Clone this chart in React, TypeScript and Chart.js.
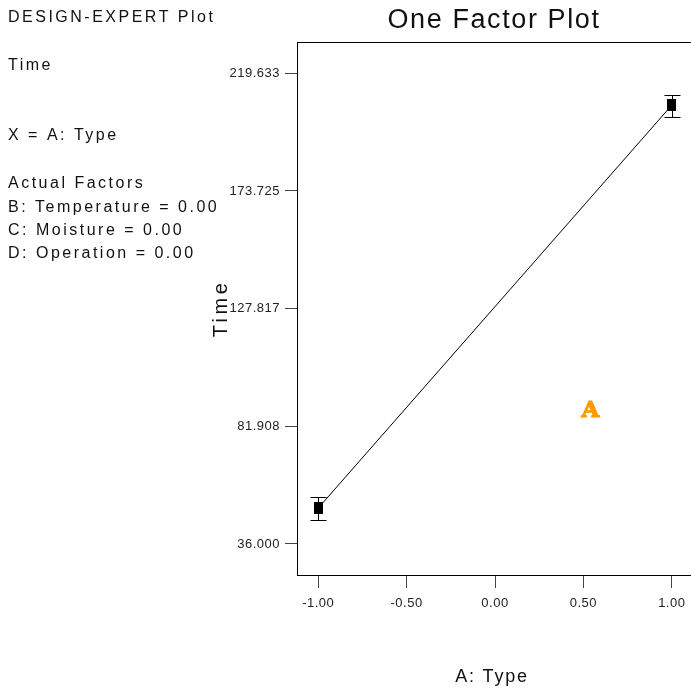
import React, { useEffect, useRef } from 'react';
import { Chart, registerables } from 'chart.js';

Chart.register(...registerables);

// ---- data ----
const typeLevels = [-1, 1];
const timeMeans = [50.0, 207.2];
const timeLow = [45.4, 202.7];
const timeHigh = [54.5, 211.2];
const xTickValues = [-1, -0.5, 0, 0.5, 1];
const xTickLabels = ['-1.00', '-0.50', '0.00', '0.50', '1.00'];
const yTickLabels = ['36.000', '81.908', '127.817', '173.725', '219.633'];
const infoLines = [
  'DESIGN-EXPERT Plot',
  'Time',
  'X = A: Type',
  'Actual Factors',
  'B: Temperature = 0.00',
  'C: Moisture = 0.00',
  'D: Operation = 0.00',
];
const chartTitle = 'One Factor Plot';
const xTitle = 'A: Type';
const yTitle = 'Time';
const factorTag = 'A';

const FONT = '"Liberation Sans", Arial, sans-serif';
const infoBaselines = [21.7, 70, 140, 188.3, 211.7, 235, 258.3];

export default function App() {
  const ref = useRef<HTMLCanvasElement | null>(null);

  useEffect(() => {
    const canvas = ref.current;
    if (!canvas) return;

    const marker = document.createElement('canvas');
    marker.width = 9;
    marker.height = 12;
    const mctx = marker.getContext('2d')!;
    mctx.fillStyle = '#000';
    mctx.fillRect(0, 0, 9, 12);

    const pts = typeLevels.map((x, i) => ({ x, y: timeMeans[i] }));

    const decor = {
      id: 'decor',
      beforeDraw(chart: any) {
        chart.ctx.letterSpacing = '0.5px';
      },
      beforeDatasetsDraw(chart: any) {
        const ctx = chart.ctx;
        const xs = chart.scales.x;
        const ys = chart.scales.y;
        ctx.save();
        ctx.letterSpacing = '0px';
        ctx.strokeStyle = '#000';
        ctx.lineWidth = 1;
        typeLevels.forEach((v, i) => {
          const px = Math.round(xs.getPixelForValue(v)) + 0.5;
          const pLow = Math.round(ys.getPixelForValue(timeLow[i])) + 0.5;
          const pHigh = Math.round(ys.getPixelForValue(timeHigh[i])) + 0.5;
          ctx.beginPath();
          ctx.moveTo(px, pLow);
          ctx.lineTo(px, pHigh);
          ctx.moveTo(px - 8, pLow);
          ctx.lineTo(px + 8, pLow);
          ctx.moveTo(px - 8, pHigh);
          ctx.lineTo(px + 8, pHigh);
          ctx.stroke();
        });
        ctx.restore();
      },
      afterDraw(chart: any) {
        const ctx = chart.ctx;
        const area = chart.chartArea;
        const xs = chart.scales.x;
        const ys = chart.scales.y;
        ctx.save();
        // top frame line
        ctx.strokeStyle = '#000';
        ctx.lineWidth = 1;
        ctx.beginPath();
        ctx.moveTo(area.left, Math.round(area.top) + 0.5);
        ctx.lineTo(area.right, Math.round(area.top) + 0.5);
        ctx.stroke();

        ctx.fillStyle = '#111';
        ctx.textBaseline = 'alphabetic';

        // info block
        ctx.textAlign = 'left';
        ctx.font = `16px ${FONT}`;
        ctx.letterSpacing = '2.5px';
        infoLines.forEach((t, i) => ctx.fillText(t, 8, infoBaselines[i]));

        // title
        ctx.textAlign = 'center';
        ctx.font = `27px ${FONT}`;
        ctx.letterSpacing = '1.6px';
        ctx.fillText(chartTitle, 494, 28.3);

        // x title
        ctx.font = `18px ${FONT}`;
        ctx.letterSpacing = '1.8px';
        ctx.fillText(xTitle, 492, 681.7);

        // y title
        ctx.save();
        ctx.translate(227, (area.top + area.bottom) / 2);
        ctx.rotate(-Math.PI / 2);
        ctx.font = `20px ${FONT}`;
        ctx.letterSpacing = '3.5px';
        ctx.fillText(yTitle, 0, 0);
        ctx.restore();

        // factor tag
        ctx.fillStyle = '#FF9900';
        ctx.strokeStyle = '#FF9900';
        ctx.lineWidth = 1.2;
        ctx.lineJoin = 'round';
        ctx.font = `bold 23px "DejaVu Serif", "Liberation Serif", serif`;
        ctx.letterSpacing = '0px';
        const tx = xs.getPixelForValue(0.54);
        const ty = ys.getPixelForValue(85.4);
        ctx.fillText(factorTag, tx, ty);
        ctx.strokeText(factorTag, tx, ty);
        ctx.restore();
      },
    };

    const chart = new Chart(canvas, {
      type: 'scatter',
      data: {
        datasets: [
          {
            type: 'line',
            data: pts,
            borderColor: '#000',
            borderWidth: 1,
            pointRadius: 0,
            fill: false,
            tension: 0,
          } as any,
          {
            type: 'scatter',
            data: pts,
            pointStyle: marker as any,
            pointRadius: 6,
            backgroundColor: '#000',
            borderColor: '#000',
          },
        ],
      },
      options: {
        animation: false,
        responsive: false,
        devicePixelRatio: 1,
        layout: { padding: { top: 42, left: 0, right: 0, bottom: 0 } },
        plugins: {
          legend: { display: false },
          tooltip: { enabled: false },
          title: { display: false },
        },
        scales: {
          x: {
            type: 'linear',
            min: -1.12,
            max: 1.12,
            afterFit(s: any) {
              s.height = 115;
            },
            afterBuildTicks(s: any) {
              s.ticks = xTickValues.map((v) => ({ value: v }));
            },
            ticks: {
              callback: (_v: any, i: number) => xTickLabels[i],
              font: { family: FONT, size: 13 },
              color: '#222',
              padding: 8,
              maxRotation: 0,
              autoSkip: false,
            },
            grid: { drawOnChartArea: false, drawTicks: true, tickLength: 13, color: '#444' },
            border: { display: true, color: '#000', width: 1 },
          },
          y: {
            type: 'linear',
            min: 23.9,
            max: 231.85,
            afterFit(s: any) {
              s.width = 297;
            },
            afterBuildTicks(s: any) {
              s.ticks = yTickLabels.map((t) => ({ value: parseFloat(t) }));
            },
            ticks: {
              callback: (_v: any, i: number) => yTickLabels[i],
              font: { family: FONT, size: 13 },
              color: '#222',
              padding: 5,
              autoSkip: false,
            },
            grid: { drawOnChartArea: false, drawTicks: true, tickLength: 12, color: '#444' },
            border: { display: true, color: '#000', width: 1 },
          },
        },
      } as any,
      plugins: [decor],
    });

    return () => chart.destroy();
  }, []);

  return (
    <div
      style={{
        position: 'fixed',
        left: 0,
        top: 0,
        width: 691,
        height: 690,
        overflow: 'hidden',
        background: '#fff',
      }}
    >
      <canvas ref={ref} width={700} height={690} style={{ display: 'block' }} />
    </div>
  );
}
